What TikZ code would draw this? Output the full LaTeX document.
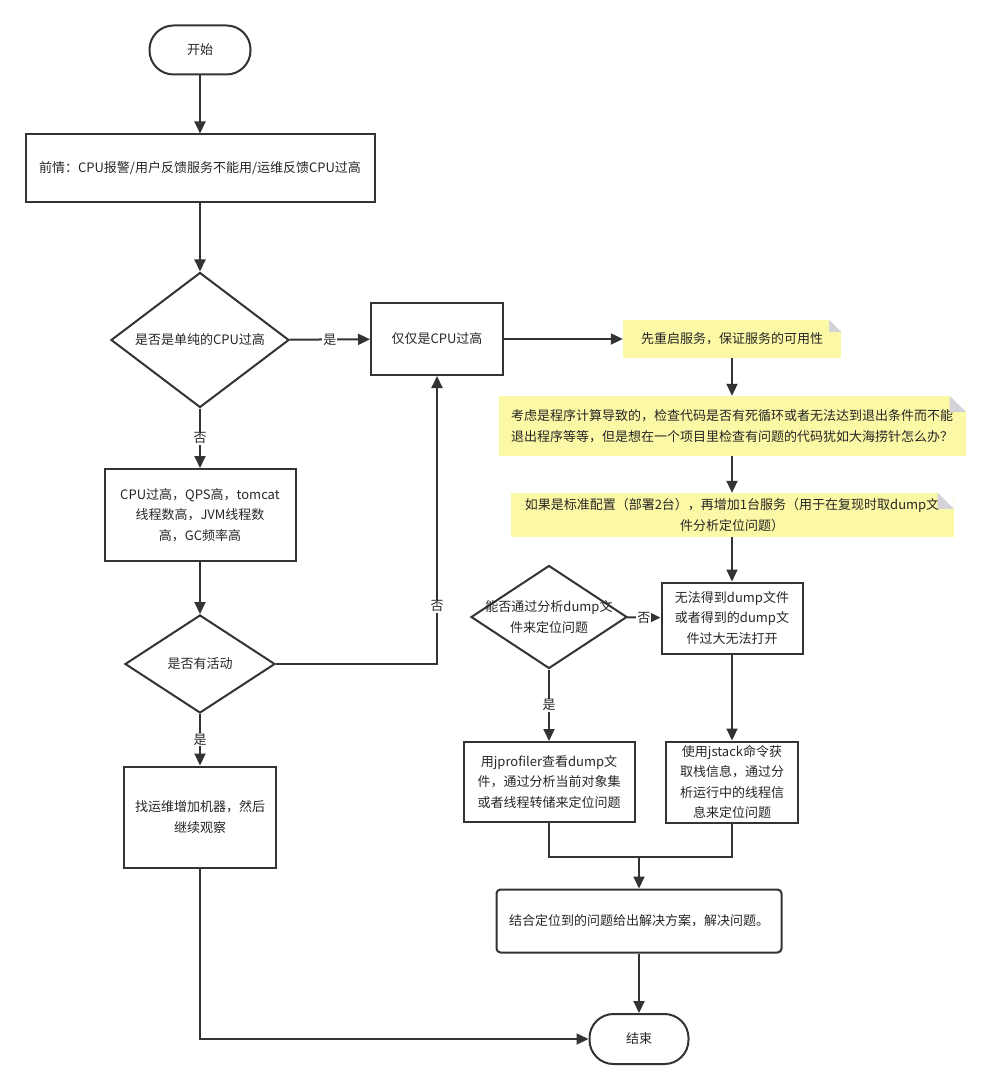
\documentclass[tikz,border=0pt]{standalone}
\usepackage{fontspec}
\newfontfamily\cjk{Noto Sans CJK SC}
\usetikzlibrary{arrows.meta,shapes.geometric}
\definecolor{lineg}{HTML}{333333}
\definecolor{notey}{HTML}{FCF9A6}
\definecolor{foldg}{HTML}{D2D2D8}
\begin{document}
\begin{tikzpicture}[x=1pt, y=-1pt, font=\cjk\fontsize{13}{20.5}\selectfont,
  >={Triangle[length=12pt,width=11pt]},
  every node/.style={inner sep=0pt, align=center, text=black!85},
  box/.style={draw=lineg, line width=2pt, rectangle},
  term/.style={box, rounded corners=24pt},
  decision/.style={draw=lineg, line width=2pt, diamond},
  note/.style={fill=notey},
  flow/.style={->, draw=lineg, line width=2pt},
  tag/.style={fill=white, inner sep=1pt}]
  \path[use as bounding box] (0,0) rectangle (991,1089);
  % pixel grid of the reference: x to the right, y downwards
  \node[term, minimum width=101pt, minimum height=49pt] (start) at (200,50) {开始};
  \node[box, minimum width=349pt, minimum height=67pt] (pre) at (200,168)
    {前情：CPU报警/用户反馈服务不能用/运维反馈CPU过高};
  \node[decision, minimum width=178pt, minimum height=135pt,
    label={center:是否是单纯的CPU过高}] (isCpu) at (200,340) {};
  \node[box, minimum width=132pt, minimum height=72pt] (onlyCpu) at (437,339)
    {仅仅是CPU过高};
  \node[box, minimum width=191pt, minimum height=92pt] (symptom) at (200,515)
    {CPU过高，QPS高，tomcat\\线程数高，JVM线程数\\高，GC频率高};
  \node[decision, minimum width=150pt, minimum height=98pt,
    label={center:是否有活动}] (active) at (200,664) {};
  \node[box, minimum width=152pt, minimum height=101pt] (addMac) at (200,817)
    {找运维增加机器，然后\\继续观察};
  % right column: notes
  \node[note, minimum width=218pt, minimum height=38pt] (restart) at (732,339)
    {先重启服务，保证服务的可用性};
  \node[note, minimum width=467pt, minimum height=60pt] (review) at (732,426)
    {考虑是程序计算导致的，检查代码是否有死循环或者无法达到退出条件而不能\\
     退出程序等等，但是想在一个项目里检查有问题的代码犹如大海捞针怎么办？};
  \node[note, minimum width=443pt, minimum height=44pt] (addSrv) at (732,515)
    {如果是标准配置（部署2台），再增加1台服务（用于在复现时取dump文\\
     件分析定位问题）};
  \foreach \n/\f in {restart/12, review/16, addSrv/16} {
    \fill[white] (\n.north east) -- ++(-\f,0) -- ++(\f,\f) -- cycle;
    \fill[foldg] (\n.north east) ++(-\f,0) -- ++(0,\f) -- ++(\f,0) -- cycle;
  }
  \node[box, minimum width=141pt, minimum height=71pt] (noDump) at (732,618)
    {无法得到dump文件\\或者得到的dump文\\件过大无法打开};
  \node[decision, minimum width=156pt, minimum height=103pt,
    label={center:能否通过分析dump文\\件来定位问题}] (canDump) at (549,617) {};
  \node[box, minimum width=171pt, minimum height=80pt] (jprof) at (549,782)
    {用jprofiler查看dump文\\件，通过分析当前对象集\\或者线程转储来定位问题};
  \node[box, minimum width=132pt, minimum height=81pt] (jstack) at (732,782)
    {使用jstack命令获\\取栈信息，通过分\\析运行中的线程信\\息来定位问题};
  \node[box, rounded corners=4pt, minimum width=285pt, minimum height=63pt]
    (solve) at (639,921) {结合定位到的问题给出解决方案，解决问题。};
  \node[term, minimum width=99pt, minimum height=50pt] (finish) at (639,1039) {结束};
  \coordinate (merge) at (solve.north |- 0,857);
  % connectors
  \draw[flow] (start) -- (pre);
  \draw[flow] (pre) -- (isCpu);
  \draw[flow] (isCpu) -- node[tag] {是} (onlyCpu);
  \draw[flow] (isCpu) -- node[tag] {否} (symptom);
  \draw[flow] (symptom) -- (active);
  \draw[flow] (active.east) -| node[tag, pos=0.6] {否} (onlyCpu.south);
  \draw[flow] (active) -- node[tag] {是} (addMac);
  \draw[flow] (addMac.south) |- (finish.west);
  \draw[flow] (onlyCpu) -- (restart);
  \draw[flow] (restart) -- (review);
  \draw[flow] (review) -- (addSrv);
  \draw[flow] (addSrv) -- (noDump);
  \draw[flow] (canDump) -- node[tag] {否} (noDump);
  \draw[flow] (canDump) -- node[tag] {是} (jprof);
  \draw[flow] (noDump) -- (jstack);
  \draw[draw=lineg, line width=2pt] (jprof.south) |- (merge) -| (jstack.south);
  \draw[flow] (merge) -- (solve);
  \draw[flow] (solve) -- (finish);
\end{tikzpicture}
\end{document}
